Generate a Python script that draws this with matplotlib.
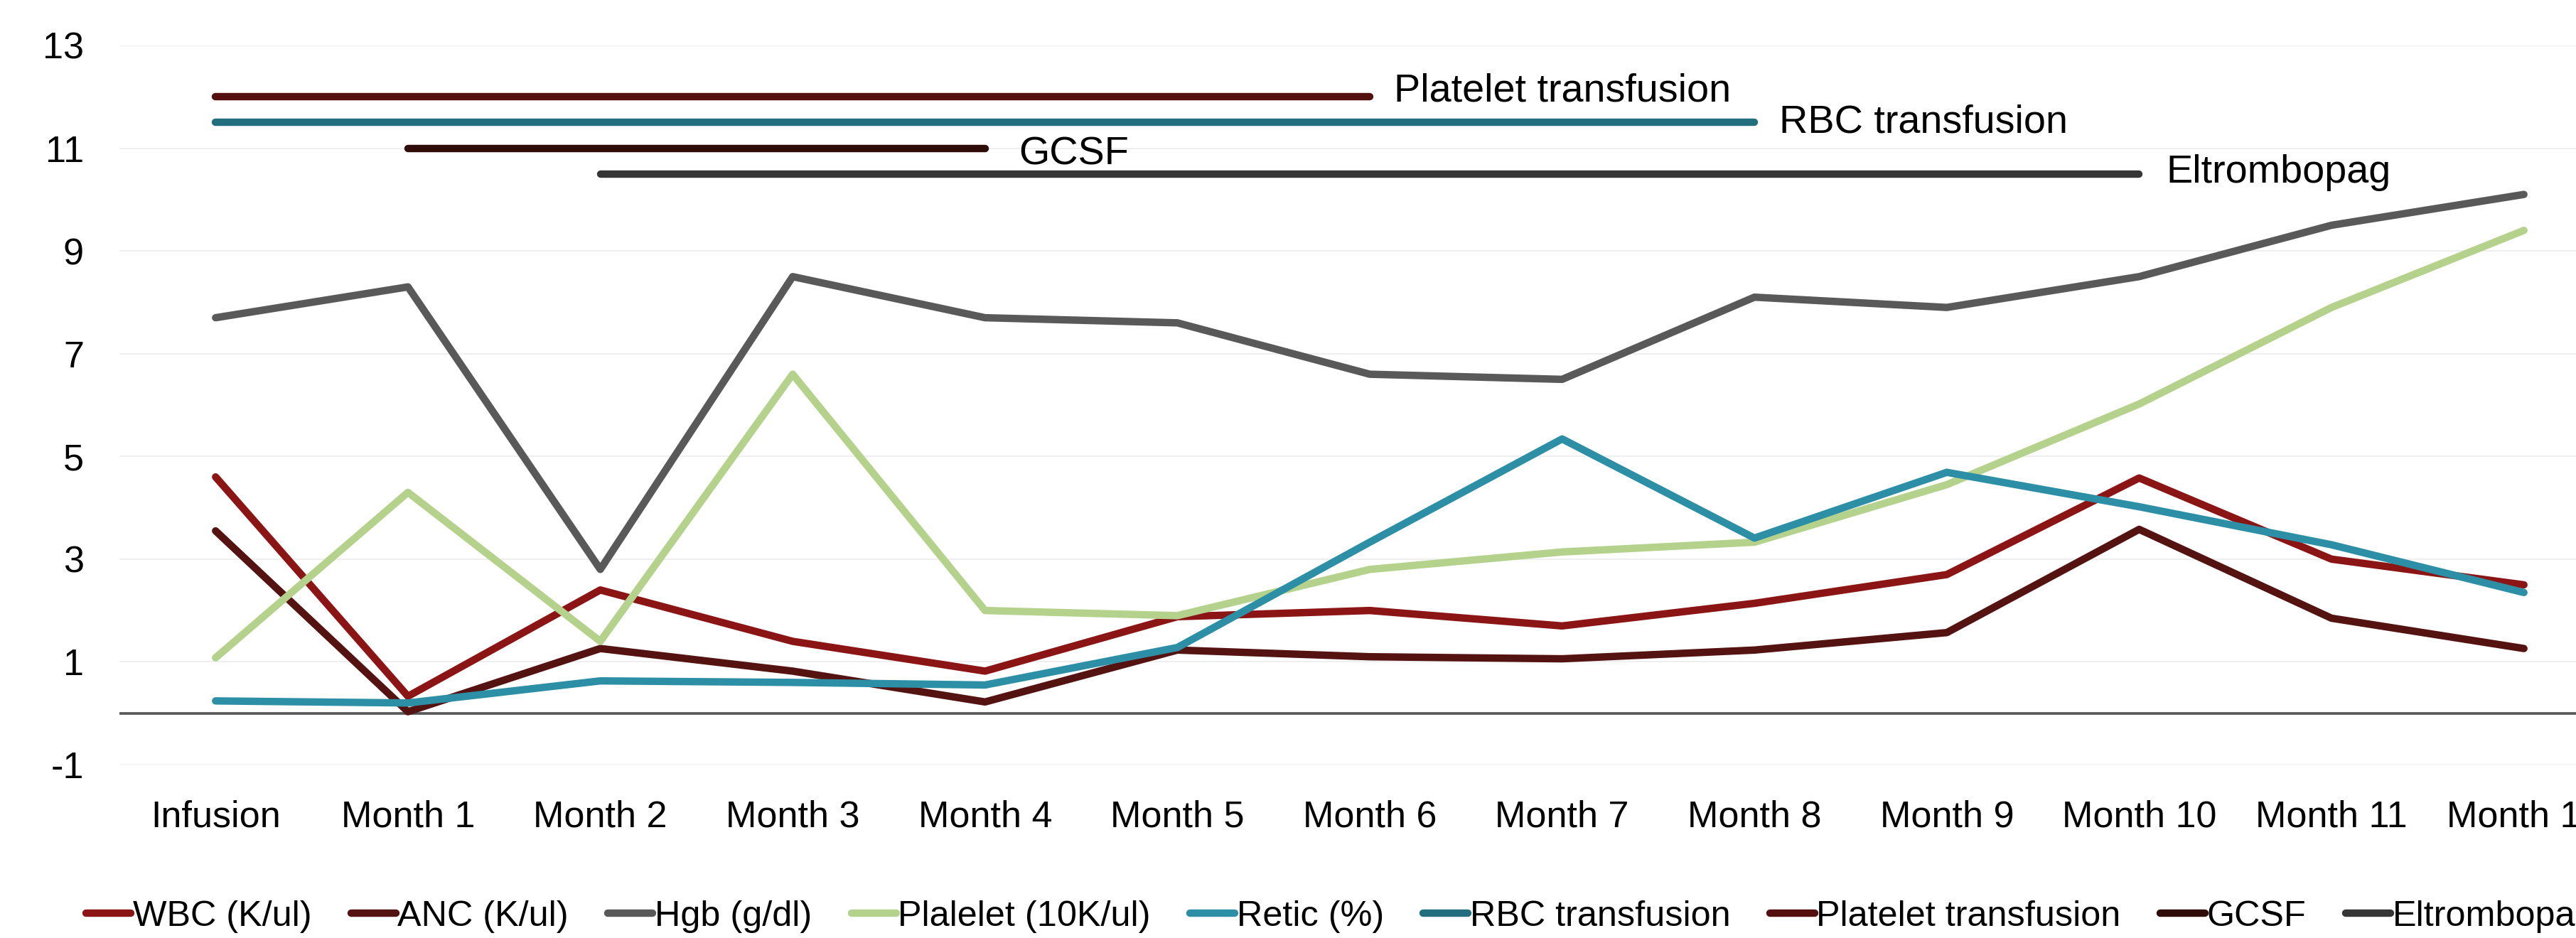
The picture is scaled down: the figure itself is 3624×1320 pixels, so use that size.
import numpy as np
import matplotlib.pyplot as plt

plt.rcParams['font.family'] = ['Liberation Sans', 'DejaVu Sans']
plt.rcParams['axes.unicode_minus'] = False

# ----------------------------
# Data
# ----------------------------
nan = np.nan
months = ["Infusion", "Month 1", "Month 2", "Month 3", "Month 4", "Month 5", "Month 6",
          "Month 7", "Month 8", "Month 9", "Month 10", "Month 11", "Month 12"]

wbc = [4.6, 0.33, 2.4, 1.4, 0.82, 1.88, 2.0, 1.7, 2.14, 2.7, 4.58, 3.0, 2.5]
anc = [3.55, 0.03, 1.26, 0.82, 0.22, 1.23, 1.1, 1.06, 1.23, 1.57, 3.58, 1.85, 1.26]
hgb = [7.7, 8.3, 2.8, 8.5, 7.7, 7.6, 6.6, 6.5, 8.1, 7.9, 8.5, 9.5, 10.1]
platelet = [1.08, 4.3, 1.4, 6.6, 2.0, 1.9, 2.8, 3.14, 3.33, 4.45, 6.02, 7.9, 9.4]
retic = [0.24, 0.2, 0.63, 0.6, 0.55, 1.28, 3.33, 5.34, 3.41, 4.69, 4.02, 3.28, 2.35]

# treatment periods, drawn as flat bars above the lab values
rbc_tx = [11.5, 11.5, 11.5, 11.5, 11.5, 11.5, 11.5, 11.5, 11.5, nan, nan, nan, nan]
platelet_tx = [12, 12, 12, 12, 12, 12, 12, nan, nan, nan, nan, nan, nan]
gcsf = [nan, 11, 11, 11, 11, nan, nan, nan, nan, nan, nan, nan, nan]
eltrombopag = [nan, nan, 10.5, 10.5, 10.5, 10.5, 10.5, 10.5, 10.5, 10.5, 10.5, nan, nan]

y_ticks = [-1, 1, 3, 5, 7, 9, 11, 13]

# (name, values, colour)
lab_series = [
    ("WBC (K/ul)", wbc, "#8B1514"),
    ("ANC (K/ul)", anc, "#541210"),
    ("Hgb (g/dl)", hgb, "#595959"),
    ("Plalelet (10K/ul)", platelet, "#B5D28D"),
    ("Retic (%)", retic, "#2C8FA6"),
]
event_series = [
    ("RBC transfusion", rbc_tx, "#236E7E"),
    ("Platelet transfusion", platelet_tx, "#540F0F"),
    ("GCSF", gcsf, "#300C08"),
    ("Eltrombopag", eltrombopag, "#363636"),
]
# label offsets in points (dx, dy)
label_offsets = {
    "RBC transfusion": (8.4, 1.4),
    "Platelet transfusion": (8.2, 3.4),
    "GCSF": (11.5, -0.7),
    "Eltrombopag": (9.1, 1.9),
}

# ----------------------------
# Plot
# ----------------------------
fig = plt.figure(figsize=(12.08, 4.4), dpi=300)
ax = fig.add_axes([0.04636, 0.18485, 0.97075, 0.76667])

x = np.arange(len(months))

for name, vals, col in lab_series + event_series:
    ax.plot(x, vals, color=col, lw=2.5, label=name,
            solid_capstyle="round", solid_joinstyle="round")

for name, vals, col in event_series:
    last = max(i for i, v in enumerate(vals) if not np.isnan(v))
    ax.annotate(name, (x[last], vals[last]), xytext=label_offsets[name],
                textcoords="offset points", ha="left", va="center_baseline",
                fontsize=13.4, color="black")

# zero line
ax.axhline(0, color="#595959", lw=0.9, zorder=1)

ax.set_xlim(-0.5, len(months) - 0.5)
ax.set_ylim(-1, 13)
ax.set_yticks(y_ticks)
ax.set_xticks(x)
ax.set_xticklabels(months)
ax.grid(axis="y", color="#EFEFEF", lw=0.5, zorder=0)
ax.set_axisbelow(True)
for s in ax.spines.values():
    s.set_visible(False)
ax.tick_params(axis="both", length=0, labelsize=12.5, colors="black")
ax.tick_params(axis="x", pad=12)
ax.tick_params(axis="y", pad=12)

fig.legend(loc="center left", bbox_to_anchor=(0.0334, 0.0227), ncol=9,
           frameon=False, fontsize=12.1, handlelength=1.25, handletextpad=0.05,
           columnspacing=1.1, borderpad=0, borderaxespad=0)

fig.savefig("out.png", dpi=300)
